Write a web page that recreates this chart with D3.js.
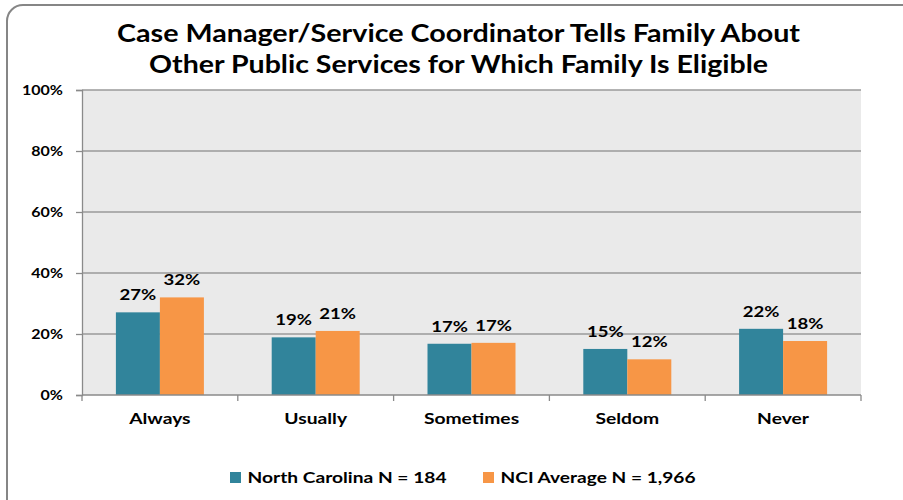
<!DOCTYPE html>
<html><head><meta charset="utf-8">
<script src="https://cdn.jsdelivr.net/npm/d3@7"></script>
<style>body{margin:0;background:#fff}svg{display:block}text{font-family:"Lato","Open Sans",sans-serif;font-weight:bold;fill:#000}</style>
</head><body>
<script>
const titleLines = ["Case Manager/Service Coordinator Tells Family About", "Other Public Services for Which Family Is Eligible"];
const categories = ["Always", "Usually", "Sometimes", "Seldom", "Never"];
const seriesNames = ["North Carolina N = 184", "NCI Average N = 1,966"];
const ncValues = [27.1, 18.9, 16.8, 15.1, 21.7];
const nciValues = [32.0, 21.0, 17.1, 11.7, 17.7];
const ncLabels = ["27%", "19%", "17%", "15%", "22%"];
const nciLabels = ["32%", "21%", "17%", "12%", "18%"];
const yTicks = [0, 20, 40, 60, 80, 100];
const colors = ["#31849B", "#F79646"];

const W = 903, H = 500;
const svg = d3.select("body").append("svg").attr("width", W).attr("height", H);

// stretch a group of texts horizontally so that a sample text reaches a target width
function stretchGroup(sel, sampleNode, target) {
  const k = target / sampleNode.getComputedTextLength();
  sel.each(function () {
    const w = this.getComputedTextLength();
    d3.select(this).attr("textLength", w * k).attr("lengthAdjust", "spacingAndGlyphs");
  });
}

// frame
svg.append("rect").attr("x", 7).attr("y", 5).attr("width", 910).attr("height", 510)
  .attr("rx", 16).attr("fill", "#fff").attr("stroke", "#868686").attr("stroke-width", 2);

const m = {left: 82, right: 861, top: 90, bottom: 395};
const x = d3.scaleBand().domain(categories).range([m.left, m.right]).padding(0);
const y = d3.scaleLinear().domain([0, 100]).range([m.bottom, m.top]);
const inner = d3.scaleBand().domain([0, 1]).range([-44, 44]).padding(0);

// plot background
svg.append("rect").attr("x", m.left).attr("y", m.top).attr("width", m.right - m.left)
  .attr("height", m.bottom - m.top).attr("fill", "#EAEAEA");

// gridlines
svg.append("g").selectAll("line").data(yTicks.filter(d => d > 0)).join("line")
  .attr("x1", m.left).attr("x2", m.right).attr("y1", d => y(d)).attr("y2", d => y(d))
  .attr("stroke", "#9a9a9a").attr("stroke-width", 1.3);

// y axis
const yAxis = svg.append("g").attr("transform", `translate(${m.left},0)`)
  .call(d3.axisLeft(y).tickValues(yTicks).tickFormat(d => d + "%").tickSize(6).tickPadding(13));
yAxis.select(".domain").attr("stroke", "#8a8a8a").attr("stroke-width", 1.3);
yAxis.selectAll(".tick line").attr("stroke", "#8a8a8a").attr("stroke-width", 1.3);
const yTexts = yAxis.selectAll(".tick text").style("font-size", "12.5px").attr("fill", "#000")
  .style("font-family", '"Lato","Open Sans",sans-serif').style("font-weight", "bold");
stretchGroup(yTexts, yTexts.nodes()[yTexts.size() - 1], 41);

// bars
const seriesData = [ncValues, nciValues];
const seriesLabels = [ncLabels, nciLabels];
const valueGroup = svg.append("g");
seriesData.forEach((vals, s) => {
  const g = svg.append("g");
  g.selectAll("rect").data(vals).join("rect")
    .attr("x", (d, i) => x(categories[i]) + x.bandwidth() / 2 + inner(s))
    .attr("width", inner.bandwidth())
    .attr("y", d => y(d)).attr("height", d => y(0) - y(d))
    .attr("fill", colors[s]);
});
seriesData.forEach((vals, s) => {
  valueGroup.selectAll("text.s" + s).data(vals).join("text").attr("class", "s" + s)
    .attr("x", (d, i) => x(categories[i]) + x.bandwidth() / 2 + inner(s) + inner.bandwidth() / 2)
    .attr("y", d => y(d) - 12)
    .attr("text-anchor", "middle").style("font-size", "15.3px")
    .text((d, i) => seriesLabels[s][i]);
});
valueGroup.raise();
const allValueTexts = valueGroup.selectAll("text");
stretchGroup(allValueTexts, allValueTexts.nodes()[0], 36.7);

// x axis
const xAxisG = svg.append("g");
xAxisG.append("line").attr("x1", m.left).attr("x2", m.right).attr("y1", m.bottom).attr("y2", m.bottom)
  .attr("stroke", "#8a8a8a").attr("stroke-width", 1.3);
const bounds = categories.map(c => x(c)).concat([m.right]);
xAxisG.selectAll("line.tk").data(bounds).join("line").attr("class", "tk")
  .attr("x1", d => d).attr("x2", d => d).attr("y1", m.bottom).attr("y2", m.bottom + 6)
  .attr("stroke", "#8a8a8a").attr("stroke-width", 1.3);
const catTexts = xAxisG.selectAll("text").data(categories).join("text")
  .attr("x", d => x(d) + x.bandwidth() / 2).attr("y", 424)
  .attr("text-anchor", "middle").style("font-size", "15px").text(d => d);
stretchGroup(catTexts, catTexts.nodes()[0], 61.4);

// title
const t1 = svg.append("text").attr("x", 458.5).attr("y", 42).attr("text-anchor", "middle")
  .style("font-size", "24px").text(titleLines[0]);
const t2 = svg.append("text").attr("x", 458.5).attr("y", 73).attr("text-anchor", "middle")
  .style("font-size", "24px").text(titleLines[1]);
stretchGroup(t1, t1.node(), 683);
stretchGroup(t2, t2.node(), 619);

// legend
const legX = [230, 483];
const legTargets = [199, 195];
seriesNames.forEach((name, s) => {
  svg.append("rect").attr("x", legX[s]).attr("y", 472).attr("width", 11).attr("height", 11).attr("fill", colors[s]);
  const t = svg.append("text").attr("x", legX[s] + 17.5).attr("y", 483).style("font-size", "14.5px").text(name);
  stretchGroup(t, t.node(), legTargets[s]);
});
</script>
</body></html>
